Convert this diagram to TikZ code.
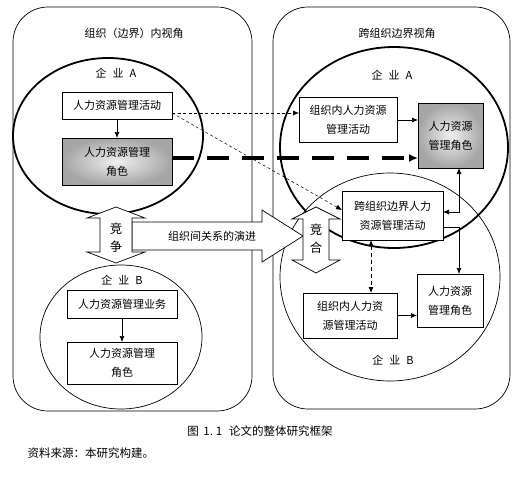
\documentclass[tikz,border=0pt]{standalone}
\usepackage{fontspec}
\setmainfont{Noto Sans CJK SC}
\usetikzlibrary{arrows.meta,shapes.geometric}

\newcommand*{\picw}{521}
\newcommand*{\pich}{482}
\newcommand*{\gap}{\hspace{0.55em}}

\begin{document}
\begin{tikzpicture}
[
	x=1pt, y=-1pt,
	font=\fontsize{11}{19}\selectfont,
	box/.style={draw,line width=0.7pt,fill=white,align=center,inner sep=0pt,outer sep=0pt},
	rolebox/.style={box,inner color=gray!12,outer color=gray!70},
	firm/.style={draw,ellipse,inner sep=0pt,outer sep=0pt},
	view/.style={draw,line width=0.7pt,rounded corners=35pt},
	tip/.style={-{Latex[length=6pt,width=5pt]}},
	bigarrow/.style={draw,line width=0.7pt,fill=white}
]

	\useasboundingbox (0,0) rectangle (\picw,\pich);

	% two views
	\draw[view] (13,7) rectangle (252,411);
	\draw[view] (273,7) rectangle (510,409);
	\node (titleL) at (134,33) {组织（边界）内视角};
	\node (titleR) at (397,33) {跨组织边界视角};

	% firms
	\node[firm,line width=1.8pt,minimum width=190,minimum height=156] (entA) at (108,136) {};
	\node[firm,line width=0.7pt,minimum width=162,minimum height=144] (entB) at (121,337) {};
	\node[firm,line width=0.7pt,minimum width=220,minimum height=208] (entRB) at (390,277) {};
	\node[firm,line width=1.8pt,minimum width=228,minimum height=201] (entRA) at (394,147.5) {};

	\node (labA) at (116,73) {企\gap 业\gap A};
	\node (labB) at (122,280) {企\gap 业\gap B};
	\node (labRA) at (392,75) {企\gap 业\gap A};
	\node (labRB) at (393,360) {企\gap 业\gap B};

	% left boxes
	\node[box,minimum width=110,minimum height=27] (actA) at (117,105.5) {人力资源管理活动};
	\node[rolebox,minimum width=110,minimum height=47] (roleA) at (117,161.5) {人力资源管理\\角色};
	\node[box,minimum width=110,minimum height=28] (bizB) at (122,304) {人力资源管理业务};
	\node[box,minimum width=110,minimum height=42] (roleB) at (122,363) {人力资源管理\\角色};

	% right boxes
	\node[box,minimum width=98,minimum height=45] (inA) at (348,119.5) {组织内人力资源\\管理活动};
	\node[rolebox,minimum width=65,minimum height=65] (roleRA) at (450.5,135.5) {人力资源\\管理角色};
	\node[box,minimum width=101,minimum height=49] (cross) at (392.5,215.5) {跨组织边界人力\\资源管理活动};
	\node[box,minimum width=66,minimum height=53] (roleRB) at (450,300.5) {人力资源\\管理角色};
	\node[box,minimum width=94,minimum height=45] (inB) at (350,315.5) {组织内人力资\\源管理活动};

	% relation arrows
	\draw[bigarrow] (132,222) -- (262,222) -- (262,210) -- (303,236) -- (262,262) -- (262,250) -- (132,250) -- cycle;
	\draw[bigarrow] (116,207) -- (145,218) -- (132,218) -- (132,252) -- (145,252) -- (116,263)
		-- (87,252) -- (100,252) -- (100,218) -- (87,218) -- cycle;
	\draw[bigarrow] (316,207) -- (340,219) -- (329,219) -- (329,260) -- (340,260) -- (316,273)
		-- (292,260) -- (303,260) -- (303,219) -- (292,219) -- cycle;
	\node[font=\fontsize{12.5}{14}\selectfont] (jing1) at (116,229) {竞};
	\node[font=\fontsize{12.5}{14}\selectfont] (zheng) at (116,247) {争};
	\node[font=\fontsize{12.5}{14}\selectfont] (jing2) at (316,230) {竞};
	\node[font=\fontsize{12.5}{14}\selectfont] (he) at (316,248) {合};
	\node (evol) at (212,236) {组织间关系的演进};

	% links
	\draw[tip,line width=0.7pt] (actA) -- (roleA);
	\draw[tip,line width=0.7pt] (bizB) -- (roleB);
	\draw[tip,line width=0.7pt] (inA.east |- 0,120) -- (roleRA.west |- 0,120);
	\draw[tip,line width=0.7pt] (inB.east) -- (inB.east -| roleRB.west);
	\draw[{Latex[length=6pt,width=5pt]}-{Latex[length=6pt,width=5pt]},line width=0.7pt]
		([yshift=3.5]cross.east) -| ([xshift=8.5]roleRA.south);
	\draw[tip,line width=0.7pt] ([yshift=-11.5]cross.east) -| ([xshift=9]roleRB.north);
	\draw[{Latex[length=6pt,width=5pt]}-{Latex[length=6pt,width=5pt]},line width=0.9pt,dash pattern=on 4pt off 3pt]
		([xshift=-21.5]cross.south) -- ([xshift=-21.5]cross.south |- inB.north);

	% dashed links between views
	\coordinate (dashstart) at ([yshift=-7.5]actA.east);
	\draw[tip,line width=0.5pt,dash pattern=on 3pt off 2.5pt] (dashstart) -- (inA.west |- dashstart);
	\draw[tip,line width=0.5pt,dash pattern=on 3pt off 2.5pt] (dashstart) -- ([yshift=5.5]cross.west);
	\draw[-{Latex[length=9pt,width=8pt]},line width=3.5pt,dash pattern=on 22pt off 13pt]
		([yshift=3.5]roleA.east) -- ([yshift=3.5]roleA.east -| roleRA.west);

	% caption
	\node[font=\fontsize{11.5}{14}\selectfont] (caption) at (260,431)
		{图\hspace{0.4em}1.\hspace{0.25em}1\hspace{0.6em}论文的整体研究框架};
	\node[anchor=west,font=\fontsize{11.5}{14}\selectfont] (source) at (24,453) {资料来源：本研究构建。};

\end{tikzpicture}
\end{document}
